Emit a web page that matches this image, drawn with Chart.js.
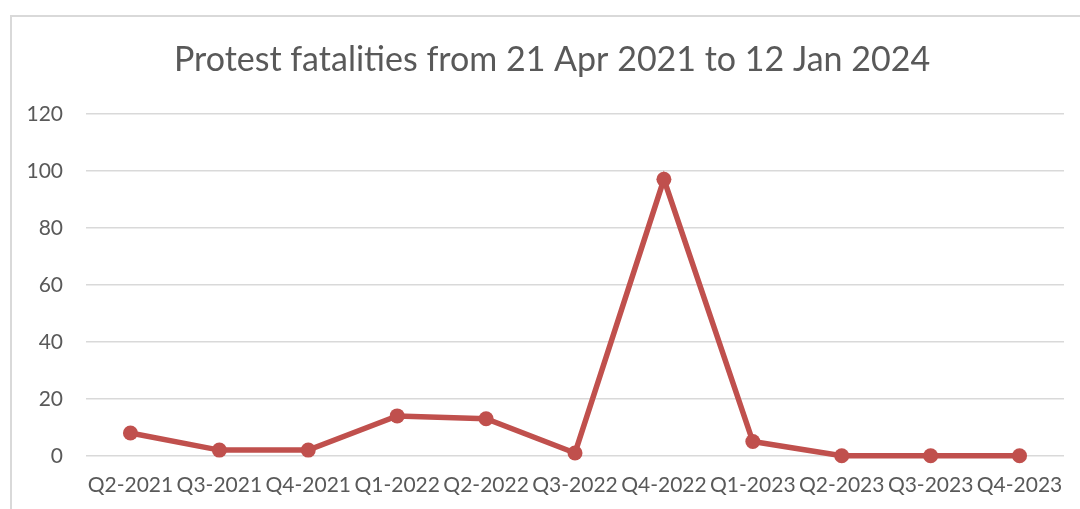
<!DOCTYPE html>
<html>
<head>
<meta charset="utf-8">
<script src="https://cdn.jsdelivr.net/npm/chart.js@4/dist/chart.umd.min.js"></script>
<style>
  html, body { margin: 0; padding: 0; background: #fff; overflow: hidden; }
  #frame {
    position: absolute; left: 10px; top: 15px; width: 1080px; height: 500px;
    border-left: 2px solid #d9d9d9; border-top: 2px solid #d9d9d9;
  }
  #wrap { position: absolute; left: 0; top: 0; width: 1080px; height: 509px; }
</style>
</head>
<body>
<div id="frame"></div>
<div id="wrap"><canvas id="grafico"></canvas></div>
<script>
const trimestres = ['Q2-2021', 'Q3-2021', 'Q4-2021', 'Q1-2022', 'Q2-2022', 'Q3-2022',
                    'Q4-2022', 'Q1-2023', 'Q2-2023', 'Q3-2023', 'Q4-2023'];
const muertes = [8, 2, 2, 14, 13, 1, 97, 5, 0, 0, 0];
const ejeY = { min: 0, max: 120, paso: 20 };

document.addEventListener('DOMContentLoaded', function() {
    const canvas = document.getElementById('grafico');
    const gris = '#595959';
    const rojo = '#C0504D';

    // el titulo va centrado en el marco, no en el lienzo
    const moverTitulo = {
        id: 'moverTitulo',
        afterLayout(chart) {
            if (chart.titleBlock) chart.titleBlock.left += 18;
        }
    };

    new Chart(canvas.getContext('2d'), {
        type: 'line',
        data: {
            labels: trimestres,
            datasets: [{
                label: 'Protest fatalities',
                data: muertes,
                borderColor: rojo,
                backgroundColor: rojo,
                borderWidth: 5.5,
                pointRadius: 7.5,
                pointHoverRadius: 7.5,
                pointBorderWidth: 0,
                tension: 0,
                clip: false
            }]
        },
        options: {
            responsive: true,
            maintainAspectRatio: false,
            animation: false,
            layout: { padding: { left: 22, right: 16, top: 40, bottom: 2 } },
            plugins: {
                legend: { display: false },
                tooltip: { enabled: false },
                title: {
                    display: true,
                    text: 'Protest fatalities from 21 Apr 2021 to 12 Jan 2024',
                    color: gris,
                    font: { family: 'Lato', size: 34, weight: 'normal' },
                    padding: { top: 0, bottom: 33 }
                }
            },
            scales: {
                x: {
                    offset: true,
                    grid: { display: false },
                    border: { display: false },
                    ticks: {
                        color: gris,
                        font: { family: 'Lato', size: 21 },
                        maxRotation: 0,
                        autoSkip: false,
                        padding: 9
                    }
                },
                y: {
                    min: ejeY.min,
                    max: ejeY.max,
                    grid: { color: '#d9d9d9', lineWidth: 1.5, drawTicks: false },
                    border: { display: false },
                    ticks: {
                        stepSize: ejeY.paso,
                        color: gris,
                        font: { family: 'Lato', size: 21 },
                        padding: 23
                    },
                    afterFit: function(scale) { scale.width = 64; }
                }
            }
        },
        plugins: [moverTitulo]
    });
});
</script>
</body>
</html>
